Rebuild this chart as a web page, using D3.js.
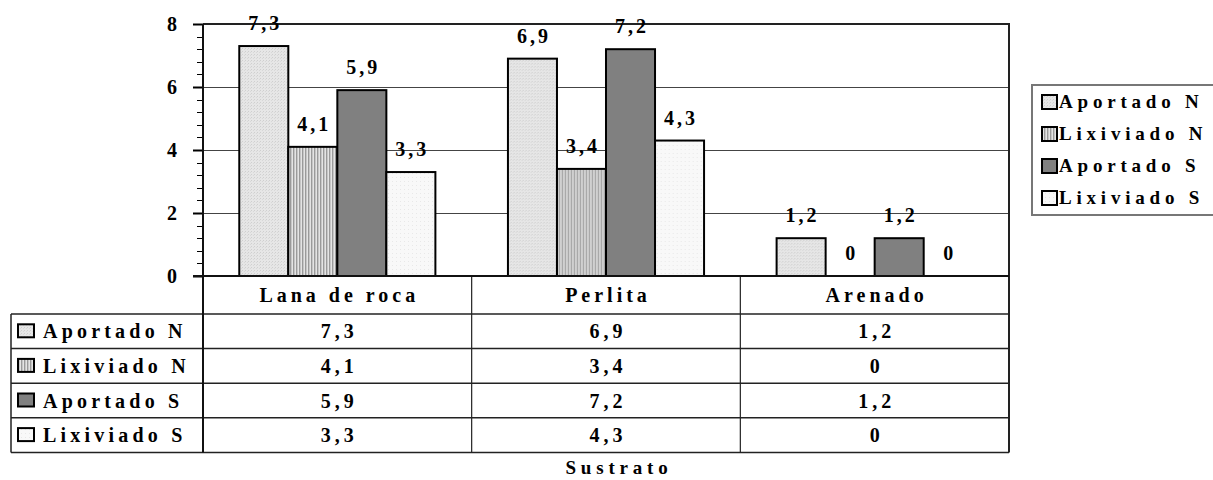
<!DOCTYPE html>
<html>
<head>
<meta charset="utf-8">
<script src="https://cdn.jsdelivr.net/npm/d3@7/dist/d3.min.js"></script>
<style>
  html, body { margin: 0; padding: 0; background: #fff; }
  svg text { font-family: "Liberation Serif", "Times New Roman", serif; font-weight: 700; fill: #000; }
</style>
</head>
<body>
<svg id="chart" width="1213" height="480"></svg>
<script>
// Substrates on the x axis
const categories = ["Lana de roca", "Perlita", "Arenado"];
// Series (N and S supplied / leached)
const seriesNames = ["Aportado N", "Lixiviado N", "Aportado S", "Lixiviado S"];
const aportadoN  = [7.3, 6.9, 1.2];
const lixiviadoN = [4.1, 3.4, 0];
const aportadoS  = [5.9, 7.2, 1.2];
const lixiviadoS = [3.3, 4.3, 0];
const yTicks = [0, 2, 4, 6, 8];
const xTitle = "Sustrato";

const seriesValues = [aportadoN, lixiviadoN, aportadoS, lixiviadoS];
const fillIds = ["patAN", "patLN", "patAS", "patLS"];

const svg = d3.select("#chart");
const plot = { left: 203, right: 1009, top: 24, bottom: 276 };
const table = { left: 11, headerBottom: 314, rowH: 34.6 };

const locale = d3.formatLocale({ decimal: ",", thousands: ".", grouping: [3], currency: ["", ""] });
const fmt = v => (v === 0 ? "0" : locale.format(".1f")(v));

// ---- fill patterns ----
const defs = svg.append("defs");
// light dotted grey
const pAN = defs.append("pattern").attr("id", "patAN").attr("patternUnits", "userSpaceOnUse").attr("width", 3).attr("height", 3);
pAN.append("rect").attr("width", 3).attr("height", 3).attr("fill", "#e6e6e6");
pAN.append("rect").attr("x", 0).attr("y", 0).attr("width", 1).attr("height", 1).attr("fill", "#cfcfcf");
pAN.append("rect").attr("x", 2).attr("y", 1).attr("width", 1).attr("height", 1).attr("fill", "#d8d8d8");
// vertical stripes
const pLN = defs.append("pattern").attr("id", "patLN").attr("patternUnits", "userSpaceOnUse").attr("width", 3).attr("height", 3);
pLN.append("rect").attr("width", 3).attr("height", 3).attr("fill", "#e4e4e4");
pLN.append("rect").attr("x", 0).attr("width", 1.4).attr("height", 3).attr("fill", "#9a9a9a");
// solid mid grey
const pAS = defs.append("pattern").attr("id", "patAS").attr("patternUnits", "userSpaceOnUse").attr("width", 3).attr("height", 3);
pAS.append("rect").attr("width", 3).attr("height", 3).attr("fill", "#808080");
// near white, sparse dots
const pLS = defs.append("pattern").attr("id", "patLS").attr("patternUnits", "userSpaceOnUse").attr("width", 4).attr("height", 4);
pLS.append("rect").attr("width", 4).attr("height", 4).attr("fill", "#f8f8f8");
pLS.append("rect").attr("x", 1).attr("y", 1).attr("width", 1).attr("height", 1).attr("fill", "#e8e8e8");

// ---- scales ----
const y = d3.scaleLinear().domain([0, 8]).range([plot.bottom, plot.top]);
const x0 = d3.scaleBand().domain(categories).range([plot.left, plot.right]).paddingInner(0).paddingOuter(0);
const x1 = d3.scaleBand().domain(seriesNames).range([0, x0.bandwidth()]).paddingInner(0).paddingOuter(0.74);

// ---- gridlines ----
svg.append("g").selectAll("line").data(yTicks.filter(t => t > 0 && t < 8)).join("line")
  .attr("x1", plot.left).attr("x2", plot.right)
  .attr("y1", d => Math.round(y(d)) + 0.5).attr("y2", d => Math.round(y(d)) + 0.5)
  .attr("stroke", "#444").attr("stroke-width", 1);

// ---- plot frame (top and right) ----
svg.append("path")
  .attr("d", `M${plot.left},${plot.top} H${plot.right} V${plot.bottom}`)
  .attr("fill", "none").attr("stroke", "#222").attr("stroke-width", 2);

// ---- bars ----
const groups = svg.append("g").selectAll("g").data(categories).join("g")
  .attr("transform", d => `translate(${x0(d)},0)`);

groups.each(function (cat, ci) {
  const g = d3.select(this);
  seriesNames.forEach((s, si) => {
    const v = seriesValues[si][ci];
    if (v > 0) {
      g.append("rect")
        .attr("x", x1(s)).attr("y", y(v))
        .attr("width", x1.bandwidth()).attr("height", y(0) - y(v))
        .attr("fill", `url(#${fillIds[si]})`)
        .attr("stroke", "#000").attr("stroke-width", 2);
    }
    g.append("text")
      .attr("x", x1(s) + x1.bandwidth() / 2 + 1.5).attr("y", y(v) - 16)
      .attr("text-anchor", "middle")
      .style("font-size", "20px").style("letter-spacing", "3px")
      .text(fmt(v));
  });
});

// ---- y axis ----
const minorTicks = d3.range(0, 8.0001, 0.4);
const axisG = svg.append("g");
axisG.selectAll("line.minor").data(minorTicks).join("line").attr("class", "minor")
  .attr("x1", plot.left - 6).attr("x2", plot.left)
  .attr("y1", d => Math.round(y(d)) + 0.5).attr("y2", d => Math.round(y(d)) + 0.5)
  .attr("stroke", "#000").attr("stroke-width", 1);
axisG.selectAll("line.major").data(yTicks).join("line").attr("class", "major")
  .attr("x1", plot.left - 10).attr("x2", plot.left)
  .attr("y1", d => Math.round(y(d)) + 0.5).attr("y2", d => Math.round(y(d)) + 0.5)
  .attr("stroke", "#000").attr("stroke-width", 2);
axisG.selectAll("text").data(yTicks).join("text")
  .attr("x", 177).attr("y", d => y(d)).attr("dy", "0.35em")
  .attr("text-anchor", "end")
  .style("font-size", "20px")
  .text(d => d);

// ---- data table ----
const tableBottom = table.headerBottom + table.rowH * seriesNames.length;
const tg = svg.append("g");
// column dividers
tg.selectAll("line.colsep").data(categories.map((c, i) => i).concat([categories.length])).join("line")
  .attr("class", "colsep")
  .attr("x1", i => i === categories.length ? plot.right : x0(categories[i]))
  .attr("x2", i => i === categories.length ? plot.right : x0(categories[i]))
  .attr("y1", plot.bottom).attr("y2", tableBottom)
  .attr("stroke", "#222").attr("stroke-width", i => (i === 0 || i === categories.length) ? 2 : 1.2);
// left border of the label column
tg.append("line").attr("x1", table.left).attr("x2", table.left)
  .attr("y1", table.headerBottom).attr("y2", tableBottom)
  .attr("stroke", "#222").attr("stroke-width", 1.5);
// horizontal rules
tg.selectAll("line.row").data(d3.range(seriesNames.length + 1)).join("line").attr("class", "row")
  .attr("x1", table.left).attr("x2", plot.right)
  .attr("y1", i => table.headerBottom + i * table.rowH).attr("y2", i => table.headerBottom + i * table.rowH)
  .attr("stroke", "#222").attr("stroke-width", 1.5);
// axis lines drawn over the bar bottoms
svg.append("line").attr("x1", plot.left - 10).attr("x2", plot.right)
  .attr("y1", plot.bottom).attr("y2", plot.bottom)
  .attr("stroke", "#111").attr("stroke-width", 2);
svg.append("line").attr("x1", plot.left).attr("x2", plot.left)
  .attr("y1", plot.top).attr("y2", tableBottom)
  .attr("stroke", "#111").attr("stroke-width", 2);

// category headers
tg.selectAll("text.cat").data(categories).join("text").attr("class", "cat")
  .attr("x", d => x0(d) + x0.bandwidth() / 2 + 2)
  .attr("y", (plot.bottom + table.headerBottom) / 2).attr("dy", "0.35em")
  .attr("text-anchor", "middle")
  .style("font-size", "20px").style("letter-spacing", "4px")
  .text(d => d);

// row labels with swatches, and the values
seriesNames.forEach((s, si) => {
  const cy = table.headerBottom + (si + 0.5) * table.rowH;
  tg.append("rect")
    .attr("x", 18).attr("y", cy - 7).attr("width", 16).attr("height", 13)
    .attr("fill", `url(#${fillIds[si]})`).attr("stroke", "#000").attr("stroke-width", 2);
  tg.append("text")
    .attr("x", 43).attr("y", cy).attr("dy", "0.35em")
    .style("font-size", "20px").style("letter-spacing", "4.2px")
    .text(s);
  categories.forEach((c, ci) => {
    tg.append("text")
      .attr("x", x0(c) + x0.bandwidth() / 2 + 2).attr("y", cy).attr("dy", "0.35em")
      .attr("text-anchor", "middle")
      .style("font-size", "20px").style("letter-spacing", "4px")
      .text(fmt(seriesValues[si][ci]));
  });
});

// x axis title
svg.append("text")
  .attr("x", 619).attr("y", 474)
  .attr("text-anchor", "middle")
  .style("font-size", "19px").style("letter-spacing", "4.8px")
  .text(xTitle);

// ---- legend ----
const lg = svg.append("g");
lg.append("rect").attr("x", 1032).attr("y", 85).attr("width", 200).attr("height", 130)
  .attr("fill", "#fff").attr("stroke", "#777").attr("stroke-width", 2);
seriesNames.forEach((s, si) => {
  const by = 108 + si * 32;
  lg.append("rect").attr("x", 1042).attr("y", by - 13).attr("width", 15).attr("height", 14)
    .attr("fill", `url(#${fillIds[si]})`).attr("stroke", "#000").attr("stroke-width", 2);
  lg.append("text").attr("x", 1059).attr("y", by)
    .style("font-size", "19px").style("letter-spacing", "4.8px")
    .text(s);
});
</script>
</body>
</html>
